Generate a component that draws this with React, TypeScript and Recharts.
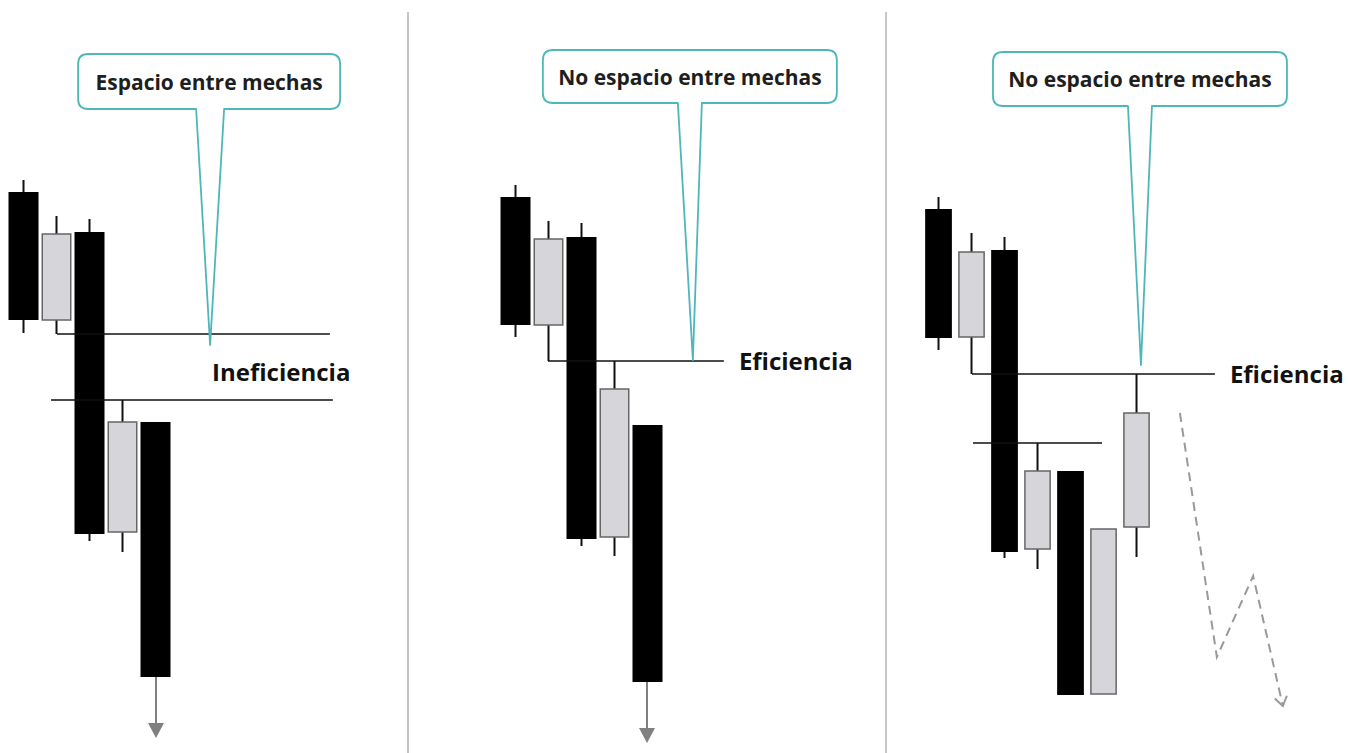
import React from "react";
import { ComposedChart, Bar, Line, XAxis, YAxis, ReferenceLine, ReferenceDot } from "recharts";

const FONT = "'Open Sans', 'DejaVu Sans', sans-serif";
const GRAY_FILL = "#d6d6da";
const GRAY_EDGE = "#666";
const TEAL = "#4fb6b9";
const H = 753;

// prices: 0 = bottom of the picture, 753 = top
const candlesA = [
  { i: 1, open: 561, high: 573, low: 420, close: 433 },
  { i: 2, open: 433, high: 537, low: 419, close: 519 },
  { i: 3, open: 521, high: 534, low: 212, close: 219 },
  { i: 4, open: 221, high: 353, low: 201, close: 331 },
  { i: 5, open: 331, high: 331, low: 76, close: 76 },
];
const levelsA = [
  { y: 419, from: 2, to: 10.27 },
  { y: 353, from: 1.82, to: 10.36 },
];
const noteA = { x: 6.7, y: 381, text: "Ineficiencia" };
const calloutA = { x: 6.64, y: 408, text: "Espacio entre mechas" };
const arrowA = { x: 5, from: 76, to: 15 };

const candlesB = [
  { i: 1, open: 556, high: 568, low: 416, close: 428 },
  { i: 2, open: 428, high: 532, low: 392, close: 514 },
  { i: 3, open: 516, high: 530, low: 207, close: 214 },
  { i: 4, open: 216, high: 392, low: 197, close: 364 },
  { i: 5, open: 328, high: 328, low: 71, close: 71 },
];
const levelsB = [{ y: 392, from: 2, to: 7.33, label: "Eficiencia" }];
const calloutB = { x: 6.39, y: 393, text: "No espacio entre mechas" };
const arrowB = { x: 5, from: 71, to: 10 };

const candlesC = [
  { i: 1, open: 544, high: 556, low: 403, close: 415 },
  { i: 2, open: 416, high: 520, low: 379, close: 501 },
  { i: 3, open: 503, high: 516, low: 195, close: 201 },
  { i: 4, open: 204, high: 310, low: 184, close: 282 },
  { i: 5, open: 282, high: 282, low: 58, close: 58 },
  { i: 6, open: 59, high: 224, low: 59, close: 224 },
  { i: 7, open: 226, high: 379, low: 196, close: 340 },
];
const levelsC = [
  { y: 379, from: 2, to: 9.36, label: "Eficiencia" },
  { y: 310, from: 2.03, to: 5.94 },
];
const calloutC = { x: 7.12, y: 388, text: "No espacio entre mechas" };
const zigzagC = [
  { i: 8.3, p: 340 },
  { i: 9.42, p: 96 },
  { i: 10.52, p: 177 },
  { i: 11.42, p: 47 },
];

function Candle(props: any) {
  const { x, y, width, height, payload } = props;
  const { open, close, high, low } = payload;
  const top = Math.min(y, y + height);
  const h = Math.abs(height);
  const span = high - low || 1;
  const px = (v: number) => top + ((high - v) / span) * h;
  const cx = x + width / 2;
  const up = close > open;
  const bTop = px(Math.max(open, close));
  const bBot = px(Math.min(open, close));
  return (
    <g>
      <line x1={cx} x2={cx} y1={top} y2={top + h} stroke="#111" strokeWidth={2} />
      {up ? (
        <rect x={x + 0.75} y={bTop} width={width - 1.5} height={bBot - bTop} fill={GRAY_FILL} stroke={GRAY_EDGE} strokeWidth={1.5} />
      ) : (
        <rect x={x} y={bTop} width={width} height={bBot - bTop} fill="#000" />
      )}
    </g>
  );
}

function DownArrow(props: any) {
  const { x1, y1, x2, y2 } = props;
  return (
    <g>
      <line x1={x1} y1={y1} x2={x2} y2={y2 - 12} stroke="#808080" strokeWidth={2} />
      <path d={`M${x2 - 8},${y2 - 15} L${x2 + 8},${y2 - 15} L${x2},${y2} Z`} fill="#808080" />
    </g>
  );
}

function makeCallout(text: string, left: number, right: number, lift: number, boxH: number, tl: number, tr: number) {
  return (props: any) => {
    const { cx, cy } = props;
    const L = cx + left, R = cx + right, B = cy - lift, T = B - boxH, r = 10;
    const d = `M${cx + tl},${B} L${cx},${cy} L${cx + tr},${B} L${R - r},${B} Q${R},${B} ${R},${B - r} L${R},${T + r} Q${R},${T} ${R - r},${T} L${L + r},${T} Q${L},${T} ${L},${T + r} L${L},${B - r} Q${L},${B} ${L + r},${B} Z`;
    return (
      <g>
        <path d={d} fill="#fff" stroke={TEAL} strokeWidth={1.8} strokeLinejoin="round" />
        <text x={(L + R) / 2} y={B - boxH / 2} textAnchor="middle" dominantBaseline="central" fontFamily={FONT} fontWeight={700} fontSize={21} fill="#1e1e1e">
          {text}
        </text>
      </g>
    );
  };
}

function ZigzagTip(props: any) {
  const { cx, cy, index } = props;
  if (index !== zigzagC.length - 1) return <g key={index} />;
  const a = (77 * Math.PI) / 180;
  const arm = 11;
  const p1 = [cx - arm * Math.cos(a - 0.6), cy - arm * Math.sin(a - 0.6)];
  const p2 = [cx - arm * Math.cos(a + 0.6), cy - arm * Math.sin(a + 0.6)];
  return <path key={index} d={`M${p1[0]},${p1[1]} L${cx},${cy} L${p2[0]},${p2[1]}`} fill="none" stroke="#999" strokeWidth={2} />;
}

const labelStyle = { fill: "#111", fontSize: 24, fontWeight: 700, fontFamily: FONT };

function Panel({ left, width, domain, margin, candles, levels, children }: any) {
  return (
    <div style={{ position: "absolute", left, top: 0 }}>
      <ComposedChart width={width} height={H} data={candles} margin={margin}>
        <XAxis dataKey="i" type="number" domain={domain} allowDataOverflow hide />
        <YAxis type="number" domain={[0, H]} allowDataOverflow hide />
        {levels.map((lv: any, k: number) => (
          <ReferenceLine
            key={k}
            segment={[{ x: lv.from, y: lv.y }, { x: lv.to, y: lv.y }]}
            stroke="#111"
            strokeWidth={1.6}
            label={lv.label ? { value: lv.label, position: "right", offset: 15, ...labelStyle } : undefined}
          />
        ))}
        <Bar dataKey={(d: any) => [d.low, d.high]} barSize={30} shape={Candle} isAnimationActive={false} />
        {children}
      </ComposedChart>
    </div>
  );
}

export default function App() {
  return (
    <div style={{ position: "relative", width: 1348, height: H, background: "#fff", overflow: "hidden" }}>
      <style>{`body{margin:0}`}</style>
      <Panel left={0} width={407} domain={[0.5, 12.5]} margin={{ top: 0, bottom: 0, left: 7.5, right: 3.5 }} candles={candlesA} levels={levelsA}>
        {[
          <ReferenceLine key="arr" segment={[{ x: arrowA.x, y: arrowA.from }, { x: arrowA.x, y: arrowA.to }]} shape={DownArrow} />,
          <ReferenceDot key="note" x={noteA.x} y={noteA.y} r={0} fill="none" stroke="none" label={{ value: noteA.text, position: "right", offset: 0, ...labelStyle }} />,
          <ReferenceDot key="call" x={calloutA.x} y={calloutA.y} r={1} shape={makeCallout(calloutA.text, -132, 130, 236, 55, -14, 14)} />,
        ]}
      </Panel>
      <Panel left={408} width={478} domain={[0.5, 12]} margin={{ top: 0, bottom: 0, left: 90.5, right: 8 }} candles={candlesB} levels={levelsB}>
        {[
          <ReferenceLine key="arr" segment={[{ x: arrowB.x, y: arrowB.from }, { x: arrowB.x, y: arrowB.to }]} shape={DownArrow} />,
          <ReferenceDot key="call" x={calloutB.x} y={calloutB.y} r={1} shape={makeCallout(calloutB.text, -150, 144, 257, 53, -15, 9)} />,
        ]}
      </Panel>
      <Panel left={886} width={462} domain={[0.5, 13]} margin={{ top: 0, bottom: 0, left: 36.5, right: 13 }} candles={candlesC} levels={levelsC}>
        {[
          <Line key="zz" data={zigzagC} dataKey="p" type="linear" stroke="#999" strokeWidth={2} strokeDasharray="9 6" dot={ZigzagTip} activeDot={false} isAnimationActive={false} />,
          <ReferenceDot key="call" x={calloutC.x} y={calloutC.y} r={1} shape={makeCallout(calloutC.text, -148, 146, 259, 54, -13, 11)} />,
        ]}
      </Panel>
      <div style={{ position: "absolute", left: 407, top: 12, width: 2, height: H - 12, background: "#c6c6c6" }} />
      <div style={{ position: "absolute", left: 885, top: 12, width: 2, height: H - 12, background: "#c6c6c6" }} />
    </div>
  );
}
